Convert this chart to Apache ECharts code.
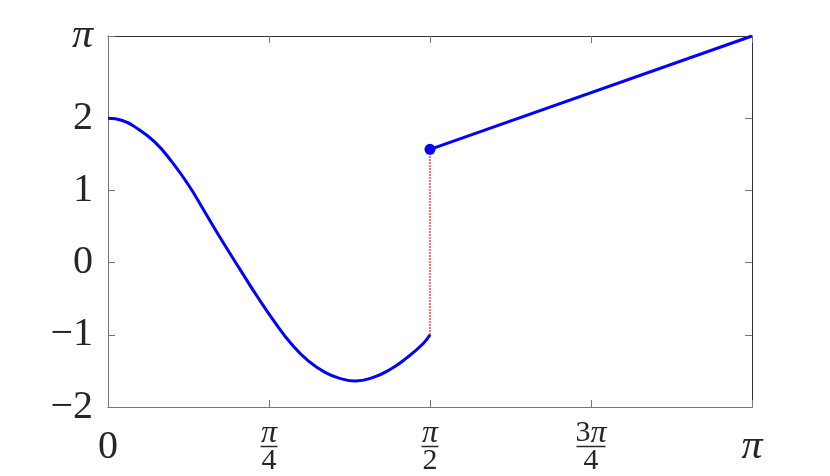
<!DOCTYPE html>
<html>
<head>
<meta charset="utf-8">
<script src="https://cdn.jsdelivr.net/npm/echarts@6/dist/echarts.min.js"></script>
<style>
  html, body { margin: 0; padding: 0; background: #fff; }
  #chart { width: 830px; height: 476px; }
</style>
</head>
<body>
<div id="chart"></div>
<script>
// curve on [0, pi/2]
const curveX = [0, 0.07, 0.148, 0.229, 0.311, 0.392, 0.473, 0.555, 0.650, 0.733, 0.815, 0.896, 0.977, 1.059, 1.140, 1.205, 1.294, 1.376, 1.457, 1.538, 1.571];
const curveY = [2.00, 1.97, 1.85, 1.67, 1.40, 1.08, 0.70, 0.31, -0.12, -0.49, -0.83, -1.13, -1.36, -1.52, -1.61, -1.64, -1.59, -1.48, -1.32, -1.12, -1.00];
// straight piece on [pi/2, pi]
const lineX = [Math.PI / 2, Math.PI];
const lineY = [Math.PI / 2, Math.PI];
// red dotted jump at pi/2
const jumpX = [Math.PI / 2, Math.PI / 2];
const jumpY = [-1, Math.PI / 2];

const xTicks = [0, Math.PI / 4, Math.PI / 2, 3 * Math.PI / 4, Math.PI];
const xTickLabels = ['{one|0}', '{n|π}\n{bar1| }\n{d|4}', '{n|π}\n{bar1| }\n{d|2}', '{n3|3}{n|π}\n{bar2| }\n{d|4}', '{pi|π}'];
const yTicks = [-2, -1, 0, 1, 2, Math.PI];
const yTickLabels = ['\u22122', '\u22121', '0', '1', '2', '{pi|π}'];

const ink = '#262626';
const font = '"Liberation Serif", "DejaVu Serif", serif';

function pick(ticks, labels, v) {
  for (let i = 0; i < ticks.length; i++) {
    if (Math.abs(ticks[i] - v) < 1e-6) return labels[i];
  }
  return '';
}

const zip = (a, b) => a.map((v, i) => [v, b[i]]);

const chart = echarts.init(document.getElementById('chart'));

function ticks(values) {
  return { show: true, inside: true, length: 7, customValues: values, lineStyle: { color: '#777', width: 1 } };
}

chart.setOption({
  animation: false,
  grid: { left: 108, right: 78, top: 36, bottom: 66 },
  xAxis: [
    {
      type: 'value', min: 0, max: Math.PI, position: 'bottom',
      axisLine: { show: true, onZero: false, lineStyle: { color: '#777', width: 1 } },
      axisTick: ticks(xTicks),
      splitLine: { show: false },
      axisLabel: {
        customValues: xTicks,
        margin: 16,
        color: ink,
        fontFamily: font,
        formatter: v => pick(xTicks, xTickLabels, v),
        rich: {
          one: { fontSize: 40, lineHeight: 48, fontFamily: font, color: ink },
          pi: { fontSize: 42, lineHeight: 48, fontFamily: font, fontStyle: 'italic', color: ink },
          n: { fontSize: 32, lineHeight: 21, fontFamily: font, fontStyle: 'italic', color: ink, align: 'center' },
          n3: { fontSize: 30, lineHeight: 21, fontFamily: font, color: ink, align: 'center' },
          d: { fontSize: 30, lineHeight: 24, fontFamily: font, color: ink, align: 'center' },
          bar1: { width: 17, height: 1.5, lineHeight: 5, backgroundColor: ink, fontSize: 1 },
          bar2: { width: 29, height: 1.5, lineHeight: 5, backgroundColor: ink, fontSize: 1 }
        }
      }
    },
    {
      type: 'value', min: 0, max: Math.PI, position: 'top',
      axisLine: { show: true, onZero: false, lineStyle: { color: '#333', width: 1 } },
      axisTick: ticks(xTicks),
      axisLabel: { show: false },
      splitLine: { show: false }
    }
  ],
  yAxis: [
    {
      type: 'value', min: -2, max: Math.PI, position: 'left',
      axisLine: { show: true, onZero: false, lineStyle: { color: '#777', width: 1 } },
      axisTick: ticks(yTicks),
      splitLine: { show: false },
      axisLabel: {
        customValues: yTicks,
        margin: 15,
        color: ink,
        fontFamily: font,
        fontSize: 40,
        formatter: v => pick(yTicks, yTickLabels, v),
        rich: {
          pi: { fontSize: 42, fontFamily: font, fontStyle: 'italic', color: ink }
        }
      }
    },
    {
      type: 'value', min: -2, max: Math.PI, position: 'right',
      axisLine: { show: true, onZero: false, lineStyle: { color: '#333', width: 1 } },
      axisTick: ticks(yTicks),
      axisLabel: { show: false },
      splitLine: { show: false }
    }
  ],
  series: [
    {
      type: 'line',
      data: zip(jumpX, jumpY),
      showSymbol: false,
      lineStyle: { color: '#ff0000', width: 1.5, type: [1.5, 1.5] },
      z: 1
    },
    {
      type: 'line',
      data: zip(curveX, curveY),
      smooth: true,
      showSymbol: false,
      lineStyle: { color: '#0000ff', width: 3 },
      z: 2
    },
    {
      type: 'line',
      data: zip(lineX, lineY).map((p, i) => ({ value: p, symbol: i === 0 ? 'circle' : 'none' })),
      symbolSize: 11,
      showSymbol: true,
      itemStyle: { color: '#0000ff' },
      lineStyle: { color: '#0000ff', width: 3 },
      z: 3
    }
  ]
});
</script>
</body>
</html>
